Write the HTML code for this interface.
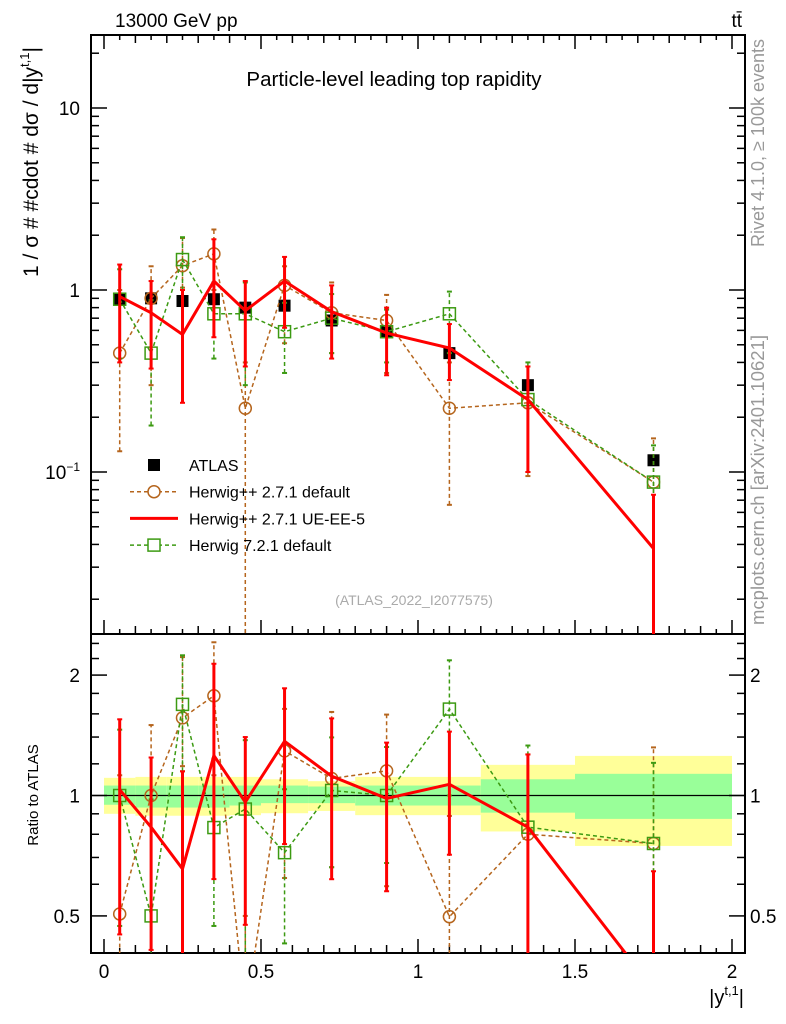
<!DOCTYPE html>
<html><head><meta charset="utf-8"><style>
html,body{margin:0;padding:0;background:#fff;overflow:hidden;width:786px;height:1024px;}
svg{display:block;}
svg text{font-family:"Liberation Sans",sans-serif;}
</style></head><body>
<svg id="c" width="786" height="1024" xmlns="http://www.w3.org/2000/svg">
<defs>
<clipPath id="cm"><rect x="91" y="35" width="654" height="599"/></clipPath>
<clipPath id="cr"><rect x="91" y="634" width="654" height="319"/></clipPath>
</defs>
<g id="bands" clip-path="url(#cr)"></g>
<g id="axes"></g>
<g id="series"></g>
<text x="115" y="27" font-size="19">13000 GeV pp</text>
<text x="742" y="27" font-size="19" text-anchor="end">tt̄</text>
<text x="394" y="86" font-size="20.5" text-anchor="middle">Particle-level leading top rapidity</text>
<text x="414" y="605" font-size="14" fill="#aaa" text-anchor="middle">(ATLAS_2022_I2077575)</text>
<text transform="translate(764,143) rotate(-90)" font-size="18" fill="#999" text-anchor="middle">Rivet 4.1.0, ≥ 100k events</text>
<text transform="translate(764,480) rotate(-90)" font-size="18.5" fill="#999" text-anchor="middle">mcplots.cern.ch [arXiv:2401.10621]</text>
<text transform="translate(38,162) rotate(-90)" font-size="21" text-anchor="middle">1 / σ # #cdot # dσ / d|y<tspan font-size="13" dy="-9">t,1</tspan><tspan dy="9">|</tspan></text>
<text transform="translate(38,795) rotate(-90)" font-size="15" text-anchor="middle">Ratio to ATLAS</text>
<text x="744" y="1004" font-size="20" text-anchor="end">|y<tspan font-size="13" dy="-9">t,1</tspan><tspan dy="9">|</tspan></text>
<g id="legend"></g>
</svg>
<script>
const edges=[0,0.1,0.2,0.3,0.4,0.5,0.65,0.8,1.0,1.2,1.5,2.0];
const centers=[0.05,0.15,0.25,0.35,0.45,0.575,0.725,0.9,1.1,1.35,1.75];
const atlas=[0.89,0.90,0.87,0.89,0.80,0.82,0.68,0.59,0.45,0.30,0.116];
const bandYellowHi=[1.107,1.113,1.113,1.113,1.113,1.098,1.086,1.113,1.113,1.193,1.256];
const bandYellowLo=[0.900,0.89,0.89,0.89,0.893,0.903,0.915,0.893,0.893,0.813,0.748];
const bandGreenHi=[1.059,1.059,1.059,1.059,1.059,1.059,1.053,1.059,1.059,1.098,1.133];
const bandGreenLo=[0.948,0.933,0.933,0.933,0.944,0.957,0.957,0.944,0.944,0.906,0.874];
const brownV=[0.45,0.90,1.36,1.58,0.224,1.06,0.75,0.68,0.224,0.24,0.088];
const brownLo=[0.13,0.30,1.03,1.0,0.001,0.51,0.45,0.35,0.066,0.095,0.001];
const brownHi=[1.0,1.35,1.93,2.15,0.40,1.35,1.1,0.94,0.40,0.38,0.153];
const redV=[0.92,0.75,0.57,1.12,0.77,1.12,0.76,0.58,0.48,0.25,0.038];
const redLo=[0.40,0.37,0.24,0.55,0.38,0.62,0.42,0.34,0.32,0.10,0.001];
const redHi=[1.38,1.12,1.0,1.9,1.12,1.52,1.06,0.80,0.65,0.38,0.075];
const greenV=[0.89,0.45,1.47,0.74,0.74,0.59,0.70,0.59,0.74,0.25,0.088];
const greenLo=[0.42,0.18,1.0,0.42,0.30,0.35,0.45,0.40,0.45,0.10,0.001];
const greenHi=[1.30,0.88,1.95,1.10,1.10,0.85,0.95,0.78,0.98,0.40,0.14];
const mainTicks=[10,1,0.1];
const ratioTicks=[2,1,0.5];
const xTicks=[0,0.5,1,1.5,2];

const NS="http://www.w3.org/2000/svg";
const X=x=>104+314*x;
const Ym=v=>290-182*Math.log10(v);
const Yr=r=>795.5-400*Math.log10(r);
function mk(tag,attrs,parent){const e=document.createElementNS(NS,tag);for(const k in attrs)e.setAttribute(k,attrs[k]);parent.appendChild(e);return e;}
const axes=document.getElementById('axes'),series=document.getElementById('series'),bands=document.getElementById('bands'),leg=document.getElementById('legend');

for(let i=0;i<centers.length;i++){
  const x0=X(edges[i]),x1=X(edges[i+1]);
  let r=mk('rect',{x:x0,y:Yr(bandYellowHi[i]),width:x1-x0,height:Yr(bandYellowLo[i])-Yr(bandYellowHi[i]),fill:'#ffff99'},bands);
  
  
  let g=mk('rect',{x:x0,y:Yr(bandGreenHi[i]),width:x1-x0,height:Yr(bandGreenLo[i])-Yr(bandGreenHi[i]),fill:'#99ff99'},bands);
  
  
}
let one=mk('line',{x1:91,x2:745,y1:Yr(1),y2:Yr(1),stroke:'#000','stroke-width':1.3},bands);



for(const [y0,y1] of [[35,634],[634,953]]){
  let f=mk('rect',{x:91,y:y0,width:654,height:y1-y0,fill:'none',stroke:'#000','stroke-width':2},axes);
  
  
}
for(let k=0;k<=40;k++){
  const v=k*0.05;const big=k%10==0;const mid=k%2==0;
  const L=big?14:(mid?8:5);
  for(const yb of [634,953]) mk('line',{x1:X(v),x2:X(v),y1:yb,y2:yb-L,stroke:'#000','stroke-width':1.5},axes);
  mk('line',{x1:X(v),x2:X(v),y1:35,y2:35+L,stroke:'#000','stroke-width':1.5},axes);
}
xTicks.forEach(v=>{let t=mk('text',{x:X(v),y:978,'font-size':19,'text-anchor':'middle'},axes);t.textContent=String(v);

});
for(let d=-2;d<=1;d++)for(let m=1;m<=9;m++){
  const v=m*Math.pow(10,d);const y=Ym(v);if(y<35||y>634)continue;
  const L=m==1?16:8;
  mk('line',{x1:91,x2:91+L,y1:y,y2:y,stroke:'#000','stroke-width':1.5},axes);
  mk('line',{x1:745,x2:745-L,y1:y,y2:y,stroke:'#000','stroke-width':1.5},axes);
}
mainTicks.forEach(v=>{
  let t=mk('text',{x:80,y:Ym(v)+7,'font-size':19,'text-anchor':'end'},axes);
  if(v==0.1){t.textContent='10';const s=mk('tspan',{'font-size':12,dy:-8},t);s.textContent='−1';}
  else t.textContent=String(v);
  
  
});
const rMinor=[0.5,0.6,0.7,0.8,0.9,1,1.2,1.4,1.6,1.8,2,2.2,2.4];
rMinor.forEach(v=>{const y=Yr(v);const L=ratioTicks.includes(v)?16:8;
  mk('line',{x1:91,x2:91+L,y1:y,y2:y,stroke:'#000','stroke-width':1.5},axes);
  mk('line',{x1:745,x2:745-L,y1:y,y2:y,stroke:'#000','stroke-width':1.5},axes);});
ratioTicks.forEach(v=>{
  let t=mk('text',{x:80,y:Yr(v)+7,'font-size':19,'text-anchor':'end'},axes);t.textContent=String(v);
  
  
  let t2=mk('text',{x:750,y:Yr(v)+7,'font-size':19},axes);t2.textContent=String(v);
  
  
});

function drawSeries(vals,lo,hi,color,dash,width,marker,name){
  for(const panel of ['main','ratio']){
    const g=mk('g',{'clip-path':panel=='main'?'url(#cm)':'url(#cr)'},series);
    
    
    const Y=panel=='main'?(i,v)=>Ym(v):(i,v)=>Yr(v/atlas[i]);
    const pts=vals.map((v,i)=>X(centers[i])+','+Y(i,v)).join(' ');
    const pl=mk('polyline',{points:pts,fill:'none',stroke:color,'stroke-width':width,'stroke-dasharray':dash},g);
    
    
    vals.forEach((v,i)=>{
      const x=X(centers[i]);
      const eb=mk('line',{x1:x,x2:x,y1:Y(i,lo[i]),y2:Y(i,hi[i]),stroke:color,'stroke-width':width,'stroke-dasharray':dash},g);
      
      
      for(const e of [lo[i],hi[i]]) mk('line',{x1:x-2.5,x2:x+2.5,y1:Y(i,e),y2:Y(i,e),stroke:color,'stroke-width':2},g);
      const y=Y(i,v);let m;
      if(marker=='circle') m=mk('circle',{cx:x,cy:y,r:6,fill:'none',stroke:color,'stroke-width':1.5},g);
      else if(marker=='square') m=mk('rect',{x:x-6,y:y-6,width:12,height:12,fill:'none',stroke:color,'stroke-width':1.5},g);
      if(m){
      }
    });
  }
}
const ga=mk('g',{'clip-path':'url(#cm)'},series);


atlas.forEach((v,i)=>{const r=mk('rect',{x:X(centers[i])-6,y:Ym(v)-6,width:12,height:12,fill:'#000'},ga);

});
drawSeries(brownV,brownLo,brownHi,'#b5651d','4,3',1.5,'circle','herwigpp-default');
drawSeries(greenV,greenLo,greenHi,'#3c9a12','4,3',1.5,'square','herwig7-default');
drawSeries(redV,redLo,redHi,'#ff0000','',3,'none','herwigpp-ue-ee-5');

const items=[['ATLAS','atlas'],['Herwig++ 2.7.1 default','brown'],['Herwig++ 2.7.1 UE-EE-5','red'],['Herwig 7.2.1 default','green']];
items.forEach(([lab,k],j)=>{
  const y=465+j*26.7;
  const g=mk('g',{},leg);
  
  
  if(k=='atlas') mk('rect',{x:148,y:y-6,width:12,height:12,fill:'#000'},g);
  if(k=='brown'){mk('line',{x1:130,x2:178,y1:y,y2:y,stroke:'#b5651d','stroke-width':1.5,'stroke-dasharray':'4,3'},g);mk('circle',{cx:154,cy:y,r:6,fill:'#fff',stroke:'#b5651d','stroke-width':1.5},g);}
  if(k=='red') mk('line',{x1:130,x2:178,y1:y,y2:y,stroke:'#f00','stroke-width':3},g);
  if(k=='green'){mk('line',{x1:130,x2:178,y1:y,y2:y,stroke:'#3c9a12','stroke-width':1.5,'stroke-dasharray':'4,3'},g);mk('rect',{x:148,y:y-6,width:12,height:12,fill:'#fff',stroke:'#3c9a12','stroke-width':1.5},g);}
  const t=mk('text',{x:189,y:y+6,'font-size':16},g);t.textContent=lab;
});
</script>
</body></html>
